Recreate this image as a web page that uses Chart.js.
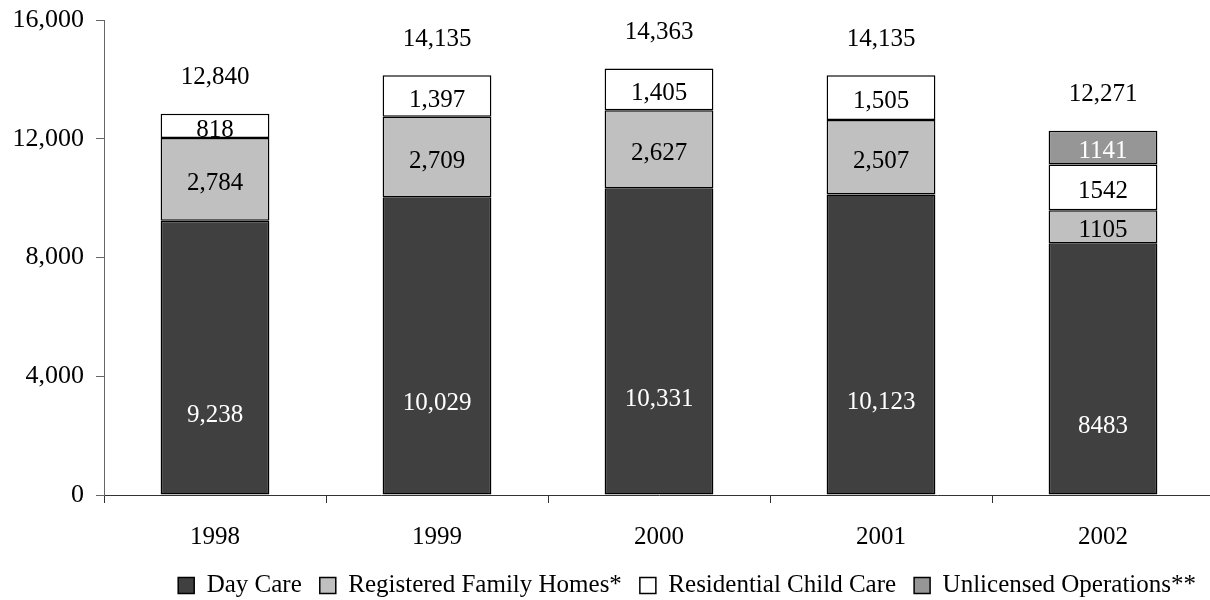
<!DOCTYPE html>
<html>
<head>
<meta charset="utf-8">
<script src="https://cdn.jsdelivr.net/npm/chart.js@4/dist/chart.umd.min.js"></script>
<style>
  html, body { margin: 0; padding: 0; background: #fff; overflow: hidden; }
  #wrap { width: 1215px; height: 608px; }
</style>
</head>
<body>
<div id="wrap"><canvas id="chart-providers" width="1215" height="608"></canvas></div>
<script>
// categories and series
const years = ['1998', '1999', '2000', '2001', '2002'];
const dayCare = [9238, 10029, 10331, 10123, 8483];
const familyHomes = [2784, 2709, 2627, 2507, 1105];
const residential = [818, 1397, 1405, 1505, 1542];
const unlicensed = [null, null, null, null, 1141];
// 2002 labels were printed without thousands separator
const useComma = [true, true, true, true, false];
const yTicks = [0, 4000, 8000, 12000, 16000];

const FONT = "'Liberation Serif', 'Times New Roman', serif";

function fmt(v, i) {
  return useComma[i] ? v.toLocaleString('en-US') : String(v);
}

const labelPlugin = {
  id: 'barLabels',
  afterDatasetsDraw(chart) {
    const ctx = chart.ctx;
    ctx.save();
    ctx.font = '25px ' + FONT;
    ctx.textAlign = 'center';
    ctx.textBaseline = 'middle';
    chart.data.datasets.forEach((ds, di) => {
      const meta = chart.getDatasetMeta(di);
      meta.data.forEach((bar, i) => {
        const v = ds.data[i];
        if (v == null) return;
        ctx.fillStyle = ds.labelColor;
        ctx.fillText(fmt(v, i), bar.x, (bar.y + bar.base) / 2 + ds.labelShift);
      });
    });
    // totals above each stack
    const yScale = chart.scales.y;
    const xScale = chart.scales.x;
    ctx.fillStyle = '#000';
    years.forEach((y, i) => {
      const total = dayCare[i] + familyHomes[i] + residential[i] + (unlicensed[i] || 0);
      ctx.fillText(total.toLocaleString('en-US'), xScale.getPixelForValue(i), yScale.getPixelForValue(total) - 36);
    });
    ctx.restore();
  }
};

new Chart(document.getElementById('chart-providers'), {
  type: 'bar',
  data: {
    labels: years,
    datasets: [
      { label: 'Day Care', data: dayCare, backgroundColor: '#404040', labelColor: '#fff', labelShift: 58 },
      { label: 'Registered Family Homes*', data: familyHomes, backgroundColor: '#c0c0c0', labelColor: '#000', labelShift: 4 },
      { label: 'Residential Child Care', data: residential, backgroundColor: '#ffffff', labelColor: '#000', labelShift: 4 },
      { label: 'Unlicensed Operations**', data: unlicensed, backgroundColor: '#969696', labelColor: '#fff', labelShift: 4 }
    ].map(d => Object.assign(d, {
      borderColor: '#000',
      borderWidth: 1.5,
      borderSkipped: false,
      barPercentage: 0.98,
      categoryPercentage: 0.5
    }))
  },
  options: {
    responsive: false,
    animation: false,
    layout: { padding: { top: 20, right: 1, bottom: 0, left: 0 } },
    plugins: {
      tooltip: { enabled: false },
      legend: {
        position: 'bottom',
        align: 'end',
        labels: {
          font: { family: FONT, size: 25 },
          color: '#000',
          boxWidth: 16,
          boxHeight: 16,
          padding: 18
        }
      }
    },
    scales: {
      x: {
        stacked: true,
        grid: { display: true, drawOnChartArea: false, drawTicks: true, tickLength: 8, color: '#333', offset: true },
        border: { color: '#333', width: 1 },
        ticks: { font: { family: FONT, size: 25 }, color: '#000', padding: 19 },
        afterFit(scale) { scale.height = 60; }
      },
      y: {
        stacked: true,
        min: 0,
        max: 16000,
        afterBuildTicks(scale) { scale.ticks = yTicks.map(v => ({ value: v })); },
        grid: { display: true, drawOnChartArea: false, drawTicks: true, tickLength: 8, color: '#666' },
        border: { color: '#666', width: 1 },
        ticks: {
          font: { family: FONT, size: 26 },
          color: '#000',
          padding: 12,
          callback: v => v.toLocaleString('en-US')
        },
        afterFit(scale) {
          scale.width = 104;
          scale.paddingTop = 0;
          scale.paddingBottom = 0;
        }
      }
    }
  },
  plugins: [labelPlugin]
});
</script>
</body>
</html>
